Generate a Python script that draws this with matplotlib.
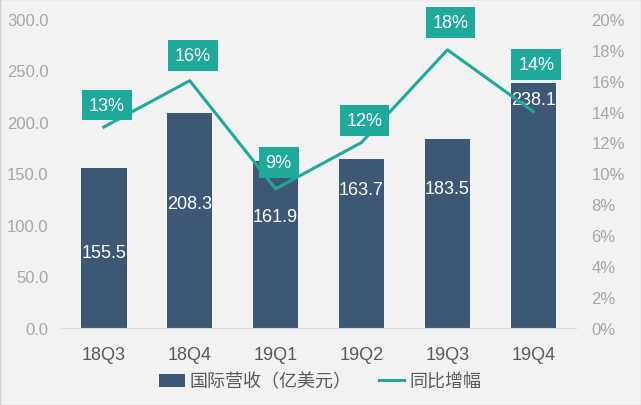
import matplotlib.pyplot as plt
import numpy as np

quarters = ["18Q3", "18Q4", "19Q1", "19Q2", "19Q3", "19Q4"]
revenue = [155.5, 208.3, 161.9, 163.7, 183.5, 238.1]
growth = [0.13, 0.16, 0.09, 0.12, 0.18, 0.14]
growth_labels = ["13%", "16%", "9%", "12%", "18%", "14%"]

# manual label placement (fraction of bar height / pixel offset above point)
bar_label_frac = [0.47, 0.58, 0.67, 0.82, 0.74, 0.93]
pct_offset_px = [22, 25, 26, 22, 27, 47]

BAR = "#3c5875"
TEAL = "#1ea99b"
BG = "#f2f2f2"

plt.rcParams["font.family"] = ["Liberation Sans", "Noto Sans CJK SC", "DejaVu Sans"]

fig = plt.figure(figsize=(6.41, 4.06), dpi=100, facecolor=BG)
ax = fig.add_axes([0.095, 0.19, 0.804, 0.761])
ax.set_facecolor(BG)
x = np.arange(len(quarters))

bars = ax.bar(x, revenue, width=0.53, color=BAR, zorder=2)
ax.set_xlim(-0.5, len(quarters) - 0.5)
ax.set_ylim(0, 300)
ax.set_yticks(np.arange(0, 301, 50))
ax.set_yticklabels([f"{v:.1f}" for v in np.arange(0, 301, 50)])
ax.set_xticks(x)
ax.set_xticklabels(quarters)
ax.tick_params(axis="y", length=0, pad=9, labelsize=12, labelcolor="#a6a6a6")
ax.tick_params(axis="x", length=0, pad=13, labelsize=13, labelcolor="#595959")
for s in ["top", "right", "left"]:
    ax.spines[s].set_visible(False)
ax.spines["bottom"].set_color("#d9d9d9")

for xi, v, f in zip(x, revenue, bar_label_frac):
    ax.text(xi, v * f, f"{v:.1f}", color="white", fontsize=13,
            ha="center", va="center", zorder=5)

ax2 = ax.twinx()
ax2.set_ylim(0, 0.20)
ax2.set_yticks(np.arange(0, 0.201, 0.02))
ax2.set_yticklabels([f"{int(round(t * 100))}%" for t in np.arange(0, 0.201, 0.02)])
ax2.tick_params(axis="y", length=0, pad=11, labelsize=12, labelcolor="#a6a6a6")
for s in ax2.spines.values():
    s.set_visible(False)
line, = ax2.plot(x, growth, color=TEAL, lw=2.2, zorder=3)

for xi, g, lab, off in zip(x, growth, growth_labels, pct_offset_px):
    ax2.annotate(lab, (xi, g), xytext=(3, off), textcoords="offset pixels",
                 ha="center", va="center", color="white", fontsize=13, zorder=6,
                 bbox=dict(boxstyle="square,pad=0.38", fc=TEAL, ec="none"))

fig.legend([bars, line], ["国际营收（亿美元）", "同比增幅"], loc="center",
           bbox_to_anchor=(0.5, 0.057), ncol=2, frameon=False, fontsize=13,
           labelcolor="#595959", handlelength=1.4, handletextpad=0.3,
           columnspacing=1.5)

fig.patches.append(plt.Rectangle((0, 0), 1, 1, transform=fig.transFigure,
                                 fill=False, ec="#d0d0d0", lw=1))
fig.savefig("out.png", dpi=100, facecolor=BG)
